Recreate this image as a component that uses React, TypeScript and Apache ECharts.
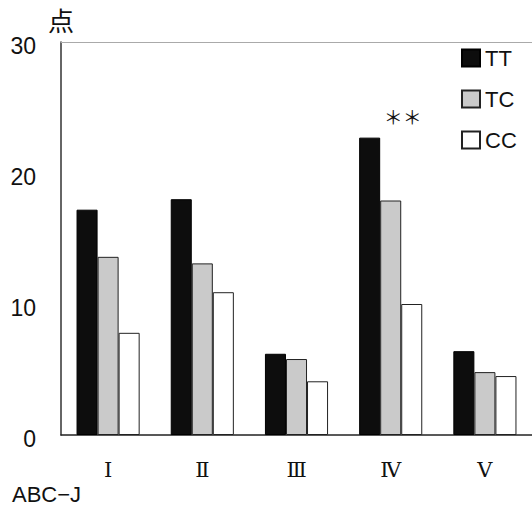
import React, { useEffect, useRef } from "react";
import * as echarts from "echarts";

const categories = ["Ⅰ", "Ⅱ", "Ⅲ", "Ⅳ", "Ⅴ"];
const seriesNames = ["TT", "TC", "CC"];
const ttValues = [17.2, 18.0, 6.2, 22.7, 6.4];
const tcValues = [13.6, 13.1, 5.8, 17.9, 4.8];
const ccValues = [7.8, 10.9, 4.1, 10.0, 4.5];
const yTicks = { min: 0, max: 30, interval: 10 };
const yUnit = "点";
const footLabel = "ABC−J";
const significance = { category: "Ⅳ", value: 24.1, text: "＊＊" };

export default function App() {
  const ref = useRef<HTMLDivElement>(null);
  useEffect(() => {
    if (!ref.current) return;
    const chart = echarts.init(ref.current, undefined, { renderer: "svg" });
    const sansFont = "'Liberation Sans', Arial, sans-serif";
    chart.setOption({
      animation: false,
      backgroundColor: "#ffffff",
      grid: { left: 61, top: 42, width: 475, height: 393 },
      legend: {
        orient: "vertical",
        left: 456,
        top: 42,
        icon: "rect",
        itemWidth: 18,
        itemHeight: 17,
        itemGap: 19,
        data: seriesNames,
        textStyle: { fontSize: 22, color: "#111", fontFamily: sansFont },
      },
      xAxis: [
        {
          type: "category",
          data: categories,
          axisLine: { show: true, lineStyle: { color: "#222", width: 1.5 } },
          axisTick: { show: false },
          axisLabel: {
            margin: 24,
            fontSize: 21,
            color: "#111",
            fontFamily: "'DejaVu Serif', 'Liberation Serif', serif",
          },
        },
        {
          type: "category",
          data: categories,
          position: "top",
          axisLine: { show: true, lineStyle: { color: "#aaa", width: 1 } },
          axisTick: { show: false },
          axisLabel: { show: false },
        },
      ],
      yAxis: {
        type: "value",
        min: yTicks.min,
        max: yTicks.max,
        interval: yTicks.interval,
        name: yUnit,
        nameLocation: "end",
        nameGap: 10,
        nameTextStyle: {
          fontSize: 26,
          color: "#111",
          fontFamily: "'Noto Sans CJK JP', sans-serif",
          align: "center",
        },
        axisLine: { show: true, lineStyle: { color: "#333", width: 1.5 } },
        axisTick: { show: false },
        splitLine: { show: false },
        axisLabel: {
          margin: 25,
          fontSize: 23,
          color: "#111",
          fontFamily: sansFont,
          verticalAlign: "top",
          lineHeight: 8,
        },
      },
      graphic: [
        {
          type: "text",
          left: 12,
          top: 483,
          style: { text: footLabel, fontSize: 22, fill: "#111", fontFamily: sansFont },
        },
      ],
      series: [
        {
          name: "TT",
          type: "bar",
          data: ttValues,
          barGap: "0%",
          barCategoryGap: "33%",
          itemStyle: { color: "#0d0d0d", borderColor: "#000", borderWidth: 1 },
        },
        {
          name: "TC",
          type: "bar",
          data: tcValues,
          barGap: "0%",
          barCategoryGap: "33%",
          itemStyle: { color: "#cacaca", borderColor: "#222", borderWidth: 1 },
          markPoint: {
            symbol: "circle",
            symbolSize: 1,
            itemStyle: { color: "rgba(0,0,0,0)" },
            label: {
              show: true,
              position: "inside",
              offset: [12, -3],
              formatter: significance.text,
              fontSize: 19,
              color: "#111",
              fontFamily: "'Noto Sans CJK JP', sans-serif",
            },
            data: [{ coord: [significance.category, significance.value] }],
          },
        },
        {
          name: "CC",
          type: "bar",
          data: ccValues,
          barGap: "0%",
          barCategoryGap: "33%",
          itemStyle: { color: "#ffffff", borderColor: "#222", borderWidth: 1 },
        },
      ],
    });
    return () => chart.dispose();
  }, []);
  return (
    <div
      ref={ref}
      style={{ position: "absolute", left: 0, top: 0, width: 532, height: 510 }}
    />
  );
}
